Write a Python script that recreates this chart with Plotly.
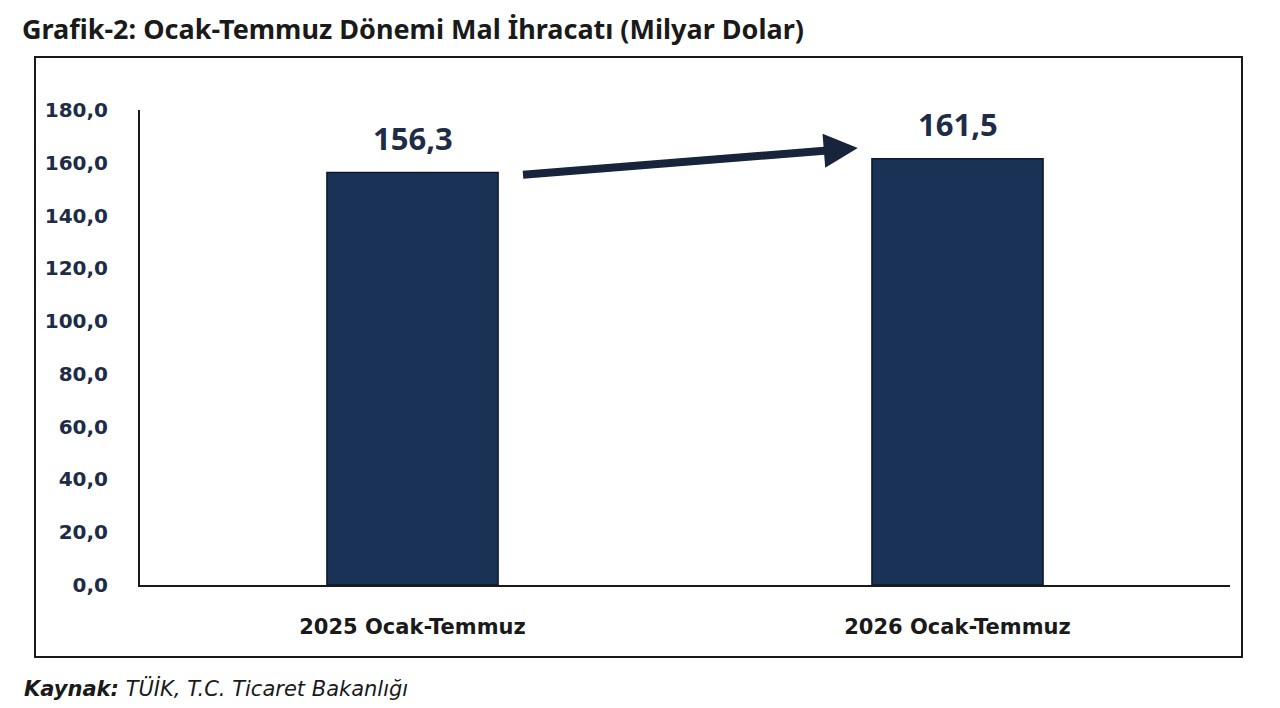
import plotly.graph_objects as go

# Chart data
categories = ['2025 Ocak-Temmuz', '2026 Ocak-Temmuz']
exports = [156.3, 161.5]
tick_values = [0, 20, 40, 60, 80, 100, 120, 140, 160, 180]
tick_labels = ['0,0', '20,0', '40,0', '60,0', '80,0', '100,0', '120,0', '140,0', '160,0', '180,0']

NAVY = '#1b3257'
TEXT_NAVY = '#1e2c47'


def create_plot():
    fig = go.Figure()

    fig.add_trace(
        go.Bar(
            x=categories,
            y=exports,
            width=0.314,
            marker=dict(color=NAVY, line=dict(color='#0d182b', width=1.5)),
            hoverinfo='x+y',
        )
    )

    # Value labels above bars
    for cat, val in zip(categories, exports):
        fig.add_annotation(
            x=cat, y=val, text=f"<b>{val:.1f}</b>".replace('.', ','),
            showarrow=False, yanchor='bottom', yshift=12,
            font=dict(family='Noto Sans', size=31, color=TEXT_NAVY),
        )

    # Growth arrow between the bars
    fig.add_annotation(
        x=0.817, y=165.6, ax=0.2, ay=155.4,
        xref='x', yref='y', axref='x', ayref='y',
        text='', showarrow=True, arrowhead=2, arrowsize=0.85,
        arrowwidth=8, arrowcolor='#17243b',
    )

    fig.update_layout(
        width=1280,
        height=708,
        paper_bgcolor='white',
        plot_bgcolor='white',
        showlegend=False,
        margin=dict(l=132, r=58, t=102, b=131),
        title=dict(
            text='<b>Grafik-2: Ocak-Temmuz Dönemi Mal İhracatı (Milyar Dolar)</b>',
            x=14 / 1280, xanchor='left', xref='container',
            y=1 - 22 / 708, yanchor='middle', yref='container',
            font=dict(family='Noto Sans', size=27, color='#1a1a1a'),
        ),
        xaxis=dict(
            showline=True, linecolor='#1a1a1a', linewidth=2,
            showgrid=False, ticks='', ticklabelstandoff=22,
            tickfont=dict(family='DejaVu Sans', size=21, color='#1a1a1a'),
            tickvals=categories,
            ticktext=[f'<b>{c}</b>' for c in categories],
        ),
        yaxis=dict(
            range=[0, 180], showline=True, linecolor='#1a1a1a', linewidth=2,
            showgrid=False, zeroline=False, ticks='', ticklabelstandoff=26,
            tickvals=tick_values,
            ticktext=[f'<b>{t}</b>' for t in tick_labels],
            tickfont=dict(family='DejaVu Sans', size=20, color=TEXT_NAVY),
        ),
    )

    # Outer frame around the chart
    fig.add_shape(
        type='rect', xref='paper', yref='paper',
        x0=(35 - 140) / 1090, x1=(1242 - 140) / 1090,
        y0=(585 - 657) / 475, y1=(585 - 57) / 475,
        line=dict(color='#1a1a1a', width=2), fillcolor='rgba(0,0,0,0)',
        layer='below',
    )

    # Source note
    fig.add_annotation(
        x=(22 - 140) / 1090, y=(585 - 688) / 475, xref='paper', yref='paper',
        text='<b><i>Kaynak:</i></b><i> TÜİK, T.C. Ticaret Bakanlığı</i>',
        showarrow=False, xanchor='left', yanchor='middle',
        font=dict(family='DejaVu Sans', size=21, color='#1a1a1a'),
    )

    return fig


def main():
    fig = create_plot()
    fig.write_html('out.html')


if __name__ == '__main__':
    main()
